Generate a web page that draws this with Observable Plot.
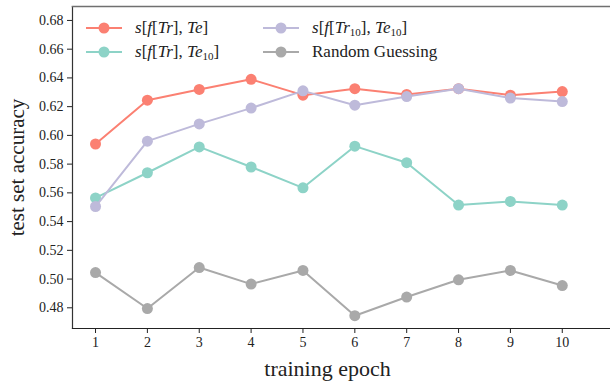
<!DOCTYPE html>
<html><head><meta charset="utf-8">
<script src="https://cdn.jsdelivr.net/npm/d3@7"></script>
<script src="https://cdn.jsdelivr.net/npm/@observablehq/plot@0.6"></script>
<style>
body{margin:0;background:#fff;}
#wrap{position:relative;width:610px;height:381px;overflow:hidden;font-family:"Liberation Serif",serif;}
.leg{position:absolute;display:flex;align-items:center;font-size:17px;color:#222;white-space:nowrap;}
.leg svg{margin-right:13px;}
.leg i{font-style:italic;}
.leg sub{font-size:11px;vertical-align:-3px;line-height:0;}
</style>
</head><body><div id="wrap"></div>
<script>
const epochs = [1,2,3,4,5,6,7,8,9,10];
const trTe     = [0.594,0.6245,0.632,0.639,0.628,0.6325,0.6285,0.6325,0.628,0.6305];
const trTe10   = [0.5565,0.574,0.592,0.578,0.5635,0.5925,0.581,0.5515,0.554,0.5515];
const tr10Te10 = [0.5505,0.596,0.608,0.619,0.631,0.621,0.627,0.6325,0.626,0.6235];
const randomGuess = [0.5045,0.4795,0.508,0.4965,0.506,0.4745,0.4875,0.4995,0.506,0.4955];
const seriesNames = ["s[f[Tr],Te]","s[f[Tr],Te10]","s[f[Tr10],Te10]","Random Guessing"];
const legendLabels = [
  "<i>s</i>[<i>f</i>[<i>Tr</i>], <i>Te</i>]",
  "<i>s</i>[<i>f</i>[<i>Tr</i>], <i>Te</i><sub>10</sub>]",
  "<i>s</i>[<i>f</i>[<i>Tr</i><sub>10</sub>], <i>Te</i><sub>10</sub>]",
  "Random Guessing"
];
const colors = ["#fb8072","#8dd3c7","#bebada","#a9a9a9"];
const yTicks = [0.48,0.50,0.52,0.54,0.56,0.58,0.60,0.62,0.64,0.66,0.68];
const xTicks = epochs;

const allSeries = [trTe, trTe10, tr10Te10, randomGuess];
const rows = [];
allSeries.forEach((vals, s) => vals.forEach((v, i) => rows.push({epoch: epochs[i], acc: v, series: seriesNames[s]})));

const seriesMarks = seriesNames.flatMap((name, s) => {
  const d = rows.filter(r => r.series === name);
  return [
    Plot.line(d, {x: "epoch", y: "acc", stroke: colors[s], strokeWidth: 2}),
    Plot.dot(d, {x: "epoch", y: "acc", fill: colors[s], r: 5.5, stroke: "none"})
  ];
});

const chart = Plot.plot({
  width: 610, height: 381,
  marginLeft: 72, marginRight: 0, marginTop: 6, marginBottom: 53,
  style: {fontFamily: "'Liberation Serif', serif", fontSize: "14px", color: "#222", background: "#fff"},
  x: {domain: [0.556, 10.93]},
  y: {domain: [0.4656, 0.6897]},
  marks: [
    Plot.axisX({ticks: xTicks, tickSize: 5, tickPadding: 4, fontSize: 14, label: null, tickFormat: d3.format("d")}),
    Plot.axisY({ticks: yTicks, tickSize: 5, tickPadding: 4, fontSize: 14, label: null, tickFormat: d3.format(".2f")}),
    Plot.frame({anchor: "left", stroke: "#333", strokeWidth: 1.2}),
    Plot.frame({anchor: "top", stroke: "#707070", strokeWidth: 1.6}),
    Plot.frame({anchor: "bottom", stroke: "#222", strokeWidth: 1.2}),
    ...seriesMarks,
    Plot.text(["training epoch"], {frameAnchor: "bottom", textAnchor: "middle", lineAnchor: "middle", dx: -14, dy: 40, fontSize: 22, fill: "#222", text: d => d}),
    Plot.text(["test set accuracy"], {frameAnchor: "left", textAnchor: "middle", lineAnchor: "middle", dx: -55, rotate: -90, fontSize: 21, fill: "#222", text: d => d})
  ]
});
const wrap = document.getElementById("wrap");
wrap.appendChild(chart);

const legPos = [[86, 28], [86, 52], [263, 28], [263, 52]];
seriesNames.forEach((name, s) => {
  const div = d3.select(wrap).append("div").attr("class", "leg")
    .style("left", legPos[s][0] + "px").style("top", (legPos[s][1] - 11) + "px").style("height", "22px");
  const sv = div.append("svg").attr("width", 36).attr("height", 14);
  sv.append("line").attr("x1", 0).attr("x2", 36).attr("y1", 7).attr("y2", 7).attr("stroke", colors[s]).attr("stroke-width", 2);
  sv.append("circle").attr("cx", 18).attr("cy", 7).attr("r", 5.5).attr("fill", colors[s]);
  div.append("span").html(legendLabels[s]);
});
</script>
</body></html>
